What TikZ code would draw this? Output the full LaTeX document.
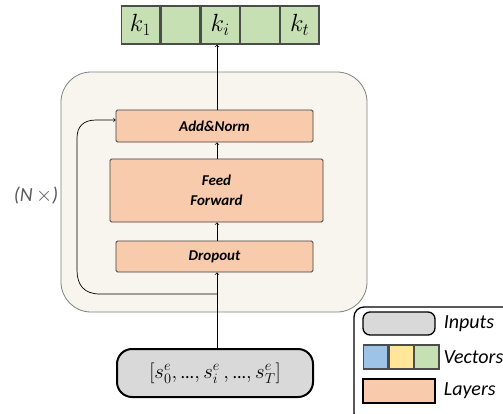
\documentclass[tikz,border=0pt]{standalone}
\usepackage{fontspec}
\setmainfont{Carlito}
\usepackage{tikz}
\usetikzlibrary{shapes, arrows, positioning}

\definecolor{layerfill}{HTML}{F8CBAD}
\definecolor{vecgreen}{HTML}{C6E0B4}
\definecolor{vecblue}{HTML}{9DC3E6}
\definecolor{vecyellow}{HTML}{FFE699}
\definecolor{inputfill}{HTML}{D9D9D9}
\definecolor{blockfill}{HTML}{F8F4EE}

\tikzset{
  layer/.style={draw=black!75, rectangle, rounded corners=1.5pt, fill=layerfill, line width=0.8pt,
    font=\fontsize{15}{19}\selectfont\bfseries\itshape, align=center, inner sep=0pt},
  cell/.style={draw=black!70, rectangle, fill=vecgreen, line width=1.3pt, minimum width=38.5pt,
    minimum height=38pt, inner sep=0pt, font=\fontsize{23}{24}\selectfont},
  smallcell/.style={draw=black!70, rectangle, line width=1.3pt, minimum width=24.3pt,
    minimum height=24pt, inner sep=0pt},
  legtext/.style={font=\fontsize{20}{22}\selectfont\itshape, anchor=west, inner sep=0pt},
  flow/.style={->, line width=0.7pt}
}

\begin{document}
\begin{tikzpicture}[x=1pt, y=-1pt, node distance=0pt]
  \useasboundingbox (0,0) rectangle (503,413);

  % repeated block
  \node (block) [draw=black!50, rectangle, rounded corners=30pt, fill=blockfill, line width=0.8pt,
    minimum width=306pt, minimum height=240pt] at (214,192) {};
  \node (repeat) [font=\fontsize{20}{22}\selectfont\itshape, text=black!65] at (36,196) {(N\,$\times$)};

  % layers
  \node (addnorm) [layer, minimum width=197pt, minimum height=32pt] at (214.5,126) {Add\&Norm};
  \node (ff) [layer, minimum width=213pt, minimum height=63pt] at (216.5,190.5) {Feed\\[1pt]Forward};
  \node (drop) [layer, minimum width=197pt, minimum height=31pt] at (214.5,256.5) {Dropout};

  % input
  \node (input) [draw=black, rectangle, rounded corners=15pt, fill=inputfill, line width=2pt,
    minimum width=196pt, minimum height=48pt, font=\fontsize{22}{24}\selectfont] at (215,373)
    {$[s^e_0,\mbox{\fontsize{18}{20}\selectfont...},s^e_i\,,\mbox{\fontsize{18}{20}\selectfont...},s^e_T]$};

  % output vector
  \node (k1) [cell] at (140.5,25) {$k_1$};
  \node (k2) [cell, right=of k1] {};
  \node (k3) [cell, right=of k2] {$k_i$};
  \node (k4) [cell, right=of k3] {};
  \node (k5) [cell, right=of k4] {$k_t$};

  % connections
  \coordinate (split) at (217,294);
  \draw[flow] (input.north -| split) -- (drop.south -| split);
  \draw[flow] (drop.north -| split) -- (ff.south -| split);
  \draw[flow] (ff.north -| split) -- (addnorm.south -| split);
  \draw[flow] (addnorm.north -| split) -- (k3.south -| split);
  \draw[flow] (split) -- (100,294) .. controls (84,294) and (77,285) .. (77,270)
    -- (77,138) .. controls (77,126) and (84,120) .. (96,120) -- (addnorm.west |- 0,120);

  % legend
  \node (legend) [draw=black, rectangle, rounded corners=10pt, line width=1.3pt,
    minimum width=160pt, minimum height=116pt] at (434,365) {};
  \node (leginput) [draw=black, rectangle, rounded corners=7pt, fill=inputfill, line width=1.3pt,
    minimum width=72pt, minimum height=23pt] at (399,323.5) {};
  \node (lv1) [smallcell, fill=vecblue] at (375.5,357) {};
  \node (lv2) [smallcell, fill=vecyellow, right=of lv1] {};
  \node (lv3) [smallcell, fill=vecgreen, right=of lv2] {};
  \node (leglayer) [draw=black, rectangle, fill=layerfill, line width=1.3pt,
    minimum width=72pt, minimum height=24pt] at (399,391) {};
  \node [legtext, right=8pt of leginput] {Inputs};
  \node [legtext, right=4pt of lv3] {Vectors};
  \node [legtext, right=8pt of leglayer] {Layers};
\end{tikzpicture}
\end{document}
